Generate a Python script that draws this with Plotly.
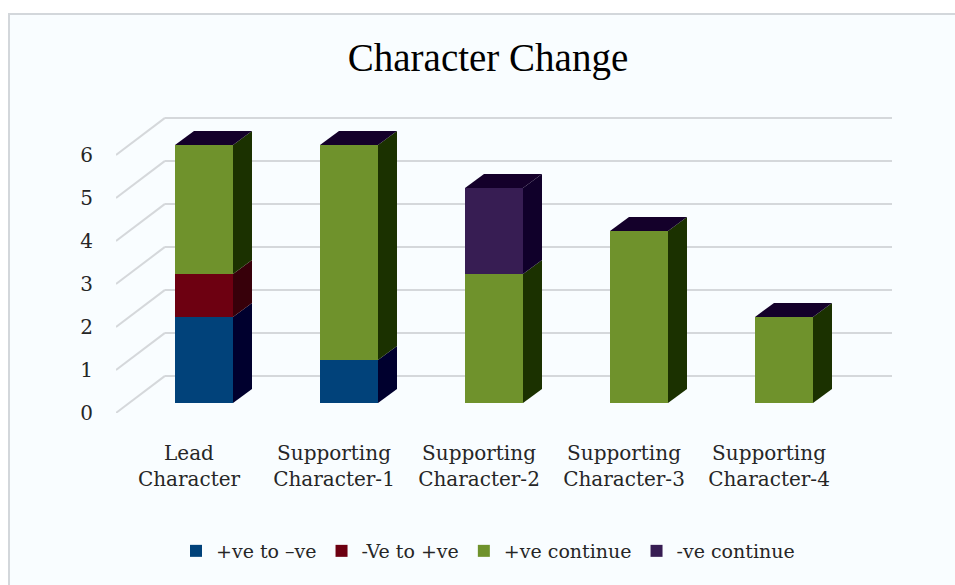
import plotly.graph_objects as go

# ---------------- data ----------------
categories = ["Lead<br>Character", "Supporting<br>Character-1", "Supporting<br>Character-2",
              "Supporting<br>Character-3", "Supporting<br>Character-4"]
series_names = ["+ve to \u2013ve", "-Ve to +ve", "+ve continue", "-ve continue"]
pos_to_neg = [2, 1, 0, 0, 0]
neg_to_pos = [1, 0, 0, 0, 0]
pos_continue = [3, 5, 3, 4, 2]
neg_continue = [0, 0, 2, 0, 0]
y_ticks = [0, 1, 2, 3, 4, 5, 6]

series_values = [pos_to_neg, neg_to_pos, pos_continue, neg_continue]
front_colors = ["#01427a", "#6d0011", "#6f922c", "#371d53"]
side_colors = ["#00002e", "#37000a", "#1b3100", "#10002a"]
top_color = "#14002a"

# ---------------- layout geometry ----------------
W, H = 955, 585
ml, mr, mt, mb = 116, 63, 110, 172
pw, ph = W - ml - mr, H - mt - mb
PX_X, PX_Y = 145.0, 43.0          # pixels per category / per unit
first_center_px = 204
x0 = -(first_center_px - ml) / PX_X
x1 = x0 + pw / PX_X
y_bottom = -10 / PX_Y
y_top = y_bottom + ph / PX_Y

bar_w = 0.4
dx = 19 / PX_X   # depth offsets of bars
dy = 14 / PX_Y
back_x = x0 + 49 / PX_X  # back wall start
back_off = 0.63
front_off = -0.23

xs = list(range(len(categories)))

fig = go.Figure()
for name, vals, col in zip(series_names, series_values, front_colors):
    fig.add_trace(go.Bar(x=xs, y=vals, name=name, width=bar_w,
                         marker=dict(color=col, line=dict(width=0))))

shapes = []
# chart frame
def px2paper_x(px):
    return (px - ml) / pw
def px2paper_y(py):
    return 1 - (py - mt) / ph

shapes.append(dict(type="rect", xref="paper", yref="paper",
                   x0=px2paper_x(9), x1=px2paper_x(W + 5), y0=px2paper_y(H + 5), y1=px2paper_y(14),
                   fillcolor="#f9fdff", line=dict(color="#d3d7db", width=2), layer="below"))

# gridlines (back wall) and slanted side wall lines
for v in y_ticks:
    shapes.append(dict(type="line", xref="x", yref="y", x0=back_x, x1=x1,
                       y0=v + back_off, y1=v + back_off,
                       line=dict(color="#d5d8db", width=2), layer="below"))
    shapes.append(dict(type="line", xref="x", yref="y", x0=x0, x1=back_x,
                       y0=v + front_off, y1=v + back_off,
                       line=dict(color="#d5d8db", width=2), layer="below"))

# 3D side and top faces
for i in xs:
    base = 0
    for s, vals in enumerate(series_values):
        v = vals[i]
        if v <= 0:
            continue
        top = base + v
        xr = i + bar_w / 2
        path = f"M{xr},{base} L{xr + dx},{base + dy} L{xr + dx},{top + dy} L{xr},{top} Z"
        shapes.append(dict(type="path", xref="x", yref="y", path=path,
                           fillcolor=side_colors[s], line=dict(width=0), layer="above"))
        base = top
    xl = i - bar_w / 2
    xr = i + bar_w / 2
    path = f"M{xl},{base} L{xl + dx},{base + dy} L{xr + dx},{base + dy} L{xr},{base} Z"
    shapes.append(dict(type="path", xref="x", yref="y", path=path,
                       fillcolor=top_color, line=dict(width=0), layer="above"))

label_font = dict(family="DejaVu Serif", size=20, color="#262626")

fig.update_layout(
    width=W, height=H,
    margin=dict(l=ml, r=mr, t=mt, b=mb, autoexpand=False),
    paper_bgcolor="white",
    plot_bgcolor="rgba(0,0,0,0)",
    barmode="stack",
    bargap=0,
    shapes=shapes,
    title=dict(text="Character Change", x=488 / W, xanchor="center",
               y=1 - 57 / H, yanchor="middle",
               font=dict(family="Liberation Serif", size=39, color="#000000")),
    xaxis=dict(range=[x0, x1], tickmode="array", tickvals=xs, ticktext=categories,
               showgrid=False, zeroline=False, showline=False, ticks="",
               tickfont=label_font, ticklabelshift=-15, ticklabelstandoff=26),
    yaxis=dict(range=[y_bottom, y_top], tickmode="array", tickvals=y_ticks,
               showgrid=False, zeroline=False, showline=False, ticks="",
               tickfont=label_font, ticklabelshift=10, ticklabelstandoff=22),
    legend=dict(orientation="h", xref="container", yref="container",
                x=488 / W, xanchor="center", y=1 - 551 / H, yanchor="middle",
                font=dict(family="DejaVu Serif", size=19, color="#262626"),
                bgcolor="rgba(0,0,0,0)", traceorder="normal", itemwidth=30),
    showlegend=True,
)

fig.write_html("out.html")
